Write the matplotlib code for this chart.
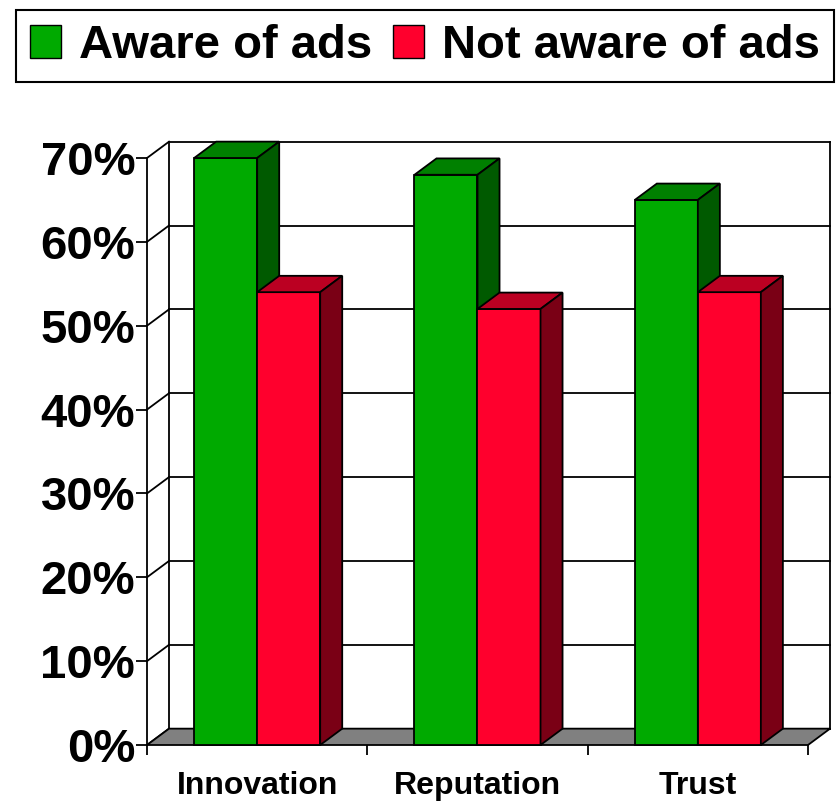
import numpy as np
import matplotlib
matplotlib.use('Agg')
import matplotlib.pyplot as plt
from matplotlib.patches import Polygon, Patch

plt.rcParams['font.family'] = ['Liberation Sans', 'DejaVu Sans']
plt.rcParams['font.weight'] = 'bold'

categories = ['Innovation', 'Reputation', 'Trust']
aware = [70, 68, 65]
not_aware = [54, 52, 54]
series_names = ['Aware of ads', 'Not aware of ads']

# front, top, side shades for each series
green = ['#00aa00', '#008000', '#005a00']
red = ['#ff002d', '#bb0022', '#7a0015']

ymax = 70
dx, dy = 0.1, 1.95   # depth offset in data units
bar_w = 0.286
lw = 1.3

fig = plt.figure(figsize=(8.37, 8.01), dpi=100)
ax = fig.add_axes([147 / 837, 56 / 801, 661 / 837, 587 / 801])
ax.set_xlim(-0.5, len(categories) - 0.5)
ax.set_ylim(0, ymax)
x0, x1 = -0.5, len(categories) - 0.5

# back wall grid, left wall diagonals
for v in range(0, ymax + 1, 10):
    ax.plot([x0 + dx, x1 + dx], [v + dy, v + dy], color='black', lw=lw, clip_on=False, zorder=1)
    ax.plot([x0, x0 + dx], [v, v + dy], color='black', lw=lw, clip_on=False, zorder=1)
ax.plot([x0 + dx, x0 + dx], [dy, ymax + dy], color='black', lw=lw, clip_on=False, zorder=1)
ax.plot([x1 + dx, x1 + dx], [dy, ymax + dy], color='black', lw=lw, clip_on=False, zorder=1)

# floor
floor = Polygon([(x0, 0), (x1, 0), (x1 + dx, dy), (x0 + dx, dy)], closed=True,
                facecolor='#808080', edgecolor='black', lw=lw, clip_on=False, zorder=2)
ax.add_patch(floor)


def bar3d(left, h, cols, z):
    r = left + bar_w
    faces = [
        ([(left, 0), (r, 0), (r, h), (left, h)], cols[0]),
        ([(left, h), (r, h), (r + dx, h + dy), (left + dx, h + dy)], cols[1]),
        ([(r, 0), (r + dx, dy), (r + dx, h + dy), (r, h)], cols[2]),
    ]
    for pts, c in faces:
        ax.add_patch(Polygon(pts, closed=True, facecolor=c, edgecolor='black',
                             lw=lw, joinstyle='miter', clip_on=False, zorder=z))


for i in range(len(categories)):
    bar3d(i - bar_w, aware[i], green, 3)
    bar3d(i, not_aware[i], red, 4)

for s in ['top', 'right', 'bottom']:
    ax.spines[s].set_visible(False)
ax.spines['left'].set_linewidth(lw)
ax.spines['left'].set_zorder(2.5)

ax.set_yticks(range(0, ymax + 1, 10))
ax.set_yticklabels([f'{v}%' for v in range(0, ymax + 1, 10)], fontsize=34, fontweight='bold')
ax.tick_params(axis='y', length=8, width=lw, pad=0.5)

ax.set_xticks(range(len(categories)))
ax.set_xticklabels(categories, fontsize=23, fontweight='bold')
ax.set_xticks(np.arange(-0.5, len(categories), 1.0), minor=True)
ax.tick_params(axis='x', which='major', length=0, pad=19)
ax.tick_params(axis='x', which='minor', length=7.5, width=lw)

handles = [Patch(facecolor=green[0], edgecolor='black', lw=1),
           Patch(facecolor=red[0], edgecolor='black', lw=1)]
leg = fig.legend(handles, series_names, loc='center', ncol=2,
                 bbox_to_anchor=(425 / 837, 1 - 46 / 801),
                 prop={'size': 34, 'weight': 'bold'},
                 frameon=True, fancybox=False, framealpha=1, edgecolor='black',
                 handlelength=0.65, handleheight=0.68, handletextpad=0.38,
                 columnspacing=0.45, borderpad=0.3, borderaxespad=0)
leg.get_frame().set_linewidth(1.5)

fig.savefig('out.png', dpi=100)
